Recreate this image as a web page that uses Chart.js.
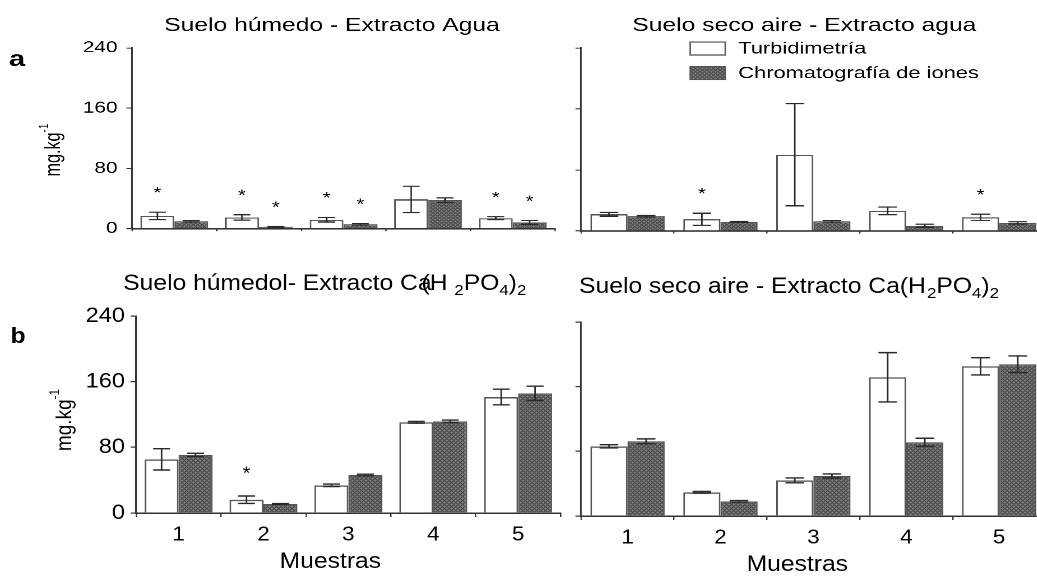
<!DOCTYPE html>
<html>
<head>
<meta charset="utf-8">
<script src="https://cdn.jsdelivr.net/npm/chart.js@4.4.0/dist/chart.umd.min.js"></script>
<style>
  html, body { margin: 0; padding: 0; background: #fff; overflow: hidden; }
  body { width: 1037px; height: 577px; position: relative; }
  .panel { position: absolute; transform-origin: 0 0; }
  .panel canvas { display: block; }
</style>
</head>
<body>
<div class="panel" id="panelA"><canvas></canvas></div>
<div class="panel" id="panelB"><canvas></canvas></div>
<div class="panel" id="panelC"><canvas></canvas></div>
<div class="panel" id="panelD"><canvas></canvas></div>
<script>
const muestras = ['1', '2', '3', '4', '5'];
const yTicks = [0, 80, 160, 240];

// Suelo húmedo - extracto agua
const humAguaTurb = [17, 15, 12, 39, 14];
const humAguaTurbErr = [5, 3.5, 3, 17.5, 2];
const humAguaCrom = [10, 2.6, 6, 38, 8.5];
const humAguaCromErr = [1, 0.5, 1, 3, 2.5];
const humAguaTurbSig = [1, 1, 1, 0, 1];
const humAguaCromSig = [0, 1, 1, 0, 1];

// Suelo seco aire - extracto agua
const secoAguaTurb = [22, 15.4, 100, 26.4, 18];
const secoAguaTurbErr = [2.5, 8, 67, 5, 4];
const secoAguaCrom = [19.4, 12, 12.8, 7, 10.6];
const secoAguaCromErr = [1, 0.5, 1, 2, 1.5];
const secoAguaTurbSig = [0, 1, 0, 0, 1];
const secoAguaCromSig = [0, 0, 0, 0, 0];

// Suelo húmedo - extracto Ca(H2PO4)2
const humCaTurb = [65.4, 16.2, 33.7, 110.5, 141.3];
const humCaTurbErr = [13, 4.5, 1.5, 1, 9.5];
const humCaCrom = [70.7, 11, 46.3, 111.7, 145.8];
const humCaCromErr = [2, 0.5, 1, 1.5, 8.7];
const humCaTurbSig = [0, 1, 0, 0, 0];
const humCaCromSig = [0, 0, 0, 0, 0];

// Suelo seco aire - extracto Ca(H2PO4)2
const secoCaTurb = [86.2, 29.3, 44.1, 171.6, 185.2];
const secoCaTurbErr = [2, 1, 3, 30.5, 10.7];
const secoCaCrom = [92.4, 18.1, 49.5, 91.2, 187.7];
const secoCaCromErr = [3, 1, 2.5, 5, 10.3];
const secoCaTurbSig = [0, 0, 0, 0, 0];
const secoCaCromSig = [0, 0, 0, 0, 0];

const fam = '"Liberation Sans", Arial, Helvetica, sans-serif';

// fine cross-hatch used for the ion chromatography bars
const hatch = (function () {
    const tile = document.createElement('canvas');
    tile.width = tile.height = 4;
    const g = tile.getContext('2d');
    g.fillStyle = '#8a8a8a';
    g.fillRect(0, 0, 4, 4);
    g.fillStyle = '#1c1c1c';
    for (let i = 0; i < 4; i++) {
        for (let j = 0; j < 4; j++) {
            if ((i + j) % 4 === 0 || (i - j + 4) % 4 === 0) g.fillRect(i, j, 1, 1);
        }
    }
    return g.createPattern(tile, 'repeat');
})();

// text made of pieces (subscripts, superscripts, overlaps)
function rich(ctx, parts, x, y, align) {
    let w = 0;
    parts.forEach(p => {
        ctx.font = `${p.size}px ${fam}`;
        w += ctx.measureText(p.t).width + (p.dx || 0);
    });
    let cx = align === 'center' ? x - w / 2 : x;
    ctx.textAlign = 'left';
    parts.forEach(p => {
        ctx.font = `${p.size}px ${fam}`;
        cx += p.dx || 0;
        ctx.fillText(p.t, cx, y + (p.dy || 0));
        cx += ctx.measureText(p.t).width;
    });
}

function text(ctx, str, pos, size, align, baseline, weight) {
    ctx.font = `${weight || ''} ${size}px ${fam}`;
    ctx.textAlign = align;
    ctx.textBaseline = baseline || 'alphabetic';
    ctx.fillText(str, pos[0], pos[1]);
}

function yTitle(ctx, pos, size) {
    ctx.save();
    ctx.translate(pos[0], pos[1]);
    ctx.rotate(-Math.PI / 2);
    ctx.textBaseline = 'middle';
    rich(ctx, [{t: 'mg.kg', size: size}, {t: '-1', size: size * 0.62, dy: -size * 0.45}], 0, 0, 'center');
    ctx.restore();
}

const errorBars = {
    id: 'errorBars',
    afterDatasetsDraw(chart) {
        const ctx = chart.ctx;
        const y = chart.scales.y;
        chart.data.datasets.forEach((ds, i) => {
            chart.getDatasetMeta(i).data.forEach((bar, j) => {
                const v = ds.data[j], e = ds.errors[j];
                const top = y.getPixelForValue(v + e);
                const bot = y.getPixelForValue(Math.max(v - e, 0));
                const half = bar.width / 4;
                ctx.save();
                ctx.strokeStyle = '#2a2a2a';
                ctx.lineWidth = 1.4;
                ctx.beginPath();
                ctx.moveTo(bar.x, top); ctx.lineTo(bar.x, bot);
                ctx.moveTo(bar.x - half, top); ctx.lineTo(bar.x + half, top);
                ctx.moveTo(bar.x - half, bot); ctx.lineTo(bar.x + half, bot);
                ctx.stroke();
                if (ds.sig[j]) {
                    const cy = Math.min(top, bar.y) - 27;
                    text(ctx, '*', [bar.x, cy + 10.4], 18, 'center');
                }
                ctx.restore();
            });
        });
    }
};

function makePanel(id, box, area, sx, sy, cfg) {
    const wrap = document.getElementById(id);
    const W = box.w / sx, H = box.h / sy;
    Object.assign(wrap.style, {
        left: box.x + 'px', top: box.y + 'px',
        width: W + 'px', height: H + 'px',
        transform: `scale(${sx}, ${sy})`
    });
    const L = (vx, vy) => [(vx - box.x) / sx, (vy - box.y) / sy];
    const yAxisW = (area.l - box.x) / sx;
    const xAxisH = (box.y + box.h - area.b) / sy;
    const decor = {
        id: 'decor',
        afterDraw(chart) {
            const ctx = chart.ctx;
            ctx.save();
            ctx.fillStyle = '#000';
            cfg.decor(ctx, L);
            ctx.restore();
        }
    };
    return new Chart(wrap.querySelector('canvas'), {
        type: 'bar',
        data: {
            labels: muestras,
            datasets: [
                {
                    label: 'Turbidimetría',
                    data: cfg.turb, errors: cfg.turbErr, sig: cfg.turbSig,
                    backgroundColor: '#ffffff', borderColor: '#555', borderWidth: 1.5
                },
                {
                    label: 'Chromatografía de iones',
                    data: cfg.crom, errors: cfg.cromErr, sig: cfg.cromSig,
                    backgroundColor: hatch, borderColor: '#555', borderWidth: 1.5
                }
            ]
        },
        options: {
            responsive: true,
            maintainAspectRatio: false,
            animation: false,
            devicePixelRatio: 2,
            layout: {
                padding: {top: (area.t - box.y) / sy, right: (box.x + box.w - area.r) / sx, left: 0, bottom: 0}
            },
            datasets: {bar: {categoryPercentage: 0.8, barPercentage: 1}},
            plugins: {legend: {display: false}, tooltip: {enabled: false}},
            scales: {
                x: {
                    ticks: {display: cfg.xLabels, color: '#000', padding: 6, font: {family: fam, size: 20}},
                    grid: {drawOnChartArea: false, tickLength: cfg.xTick, color: '#333', lineWidth: 1.2},
                    border: {color: '#333', width: 1.5},
                    afterFit: s => { s.height = xAxisH; }
                },
                y: {
                    min: 0, max: 240,
                    afterBuildTicks: s => { s.ticks = yTicks.map(v => ({value: v})); },
                    ticks: {display: cfg.yLabels, color: '#000', padding: cfg.yPad, font: {family: fam, size: cfg.ySize}},
                    grid: {drawOnChartArea: false, tickLength: 5, color: '#333', lineWidth: 1.2},
                    border: {color: '#333', width: 1.5},
                    afterFit: s => { s.width = yAxisW; }
                }
            }
        },
        plugins: [errorBars, decor]
    });
}

makePanel('panelA', {x: 0, y: 0, w: 560, h: 245}, {l: 132, t: 48, r: 555, b: 232}, 1.12, 0.85, {
    turb: humAguaTurb, turbErr: humAguaTurbErr, turbSig: humAguaTurbSig,
    crom: humAguaCrom, cromErr: humAguaCromErr, cromSig: humAguaCromSig,
    xLabels: false, xTick: 3, yLabels: true, yPad: 8, ySize: 18.5,
    decor: (ctx, L) => {
        text(ctx, 'Suelo húmedo - Extracto Agua', L(332, 31), 22, 'center');
        text(ctx, 'a', L(17, 66), 26, 'center', 'alphabetic', 'bold');
        yTitle(ctx, L(54, 150), 19);
    }
});

makePanel('panelB', {x: 520, y: 0, w: 525, h: 245}, {l: 581, t: 48, r: 1045, b: 231}, 1.12, 0.85, {
    turb: secoAguaTurb, turbErr: secoAguaTurbErr, turbSig: secoAguaTurbSig,
    crom: secoAguaCrom, cromErr: secoAguaCromErr, cromSig: secoAguaCromSig,
    xLabels: false, xTick: 3, yLabels: false, yPad: 8, ySize: 18,
    decor: (ctx, L) => {
        text(ctx, 'Suelo seco aire - Extracto agua', L(804, 31), 22, 'center');
        // legend
        const bw = 35 / 1.12, bh = 13 / 0.85;
        [[42, '#ffffff', 'Turbidimetría'], [66.5, hatch, 'Chromatografía de iones']].forEach(([vy, fill, name]) => {
            const p = L(690, vy);
            ctx.fillStyle = fill;
            ctx.fillRect(p[0], p[1], bw, bh);
            ctx.strokeStyle = '#555';
            ctx.lineWidth = 1.3;
            ctx.strokeRect(p[0], p[1], bw, bh);
            ctx.fillStyle = '#000';
            text(ctx, name, L(738, vy + 7), 19.5, 'left', 'middle');
        });
    }
});

makePanel('panelC', {x: 0, y: 260, w: 565, h: 317}, {l: 136, t: 316, r: 560, b: 513}, 1.12, 1, {
    turb: humCaTurb, turbErr: humCaTurbErr, turbSig: humCaTurbSig,
    crom: humCaCrom, cromErr: humCaCromErr, cromSig: humCaCromSig,
    xLabels: true, xTick: 4, yLabels: true, yPad: 5, ySize: 21,
    decor: (ctx, L) => {
        const p = L(123, 290);
        ctx.textBaseline = 'alphabetic';
        rich(ctx, [
            {t: 'Suelo húmedol- Extracto Ca', size: 22},
            {t: '(H ', size: 22, dx: -9},
            {t: '2', size: 15, dy: 5},
            {t: 'PO', size: 22},
            {t: '4', size: 15, dy: 5},
            {t: ')', size: 22},
            {t: '2', size: 15, dy: 5}
        ], p[0], p[1], 'left');
        text(ctx, 'b', L(18, 343), 22, 'center', 'alphabetic', 'bold');
        yTitle(ctx, L(65, 420), 19);
        text(ctx, 'Muestras', L(330, 562), 22, 'center', 'middle');
    }
});

makePanel('panelD', {x: 520, y: 260, w: 525, h: 317}, {l: 581, t: 322, r: 1045, b: 516}, 1.12, 1, {
    turb: secoCaTurb, turbErr: secoCaTurbErr, turbSig: secoCaTurbSig,
    crom: secoCaCrom, cromErr: secoCaCromErr, cromSig: secoCaCromSig,
    xLabels: true, xTick: 4, yLabels: false, yPad: 5, ySize: 21,
    decor: (ctx, L) => {
        const p = L(579, 293);
        ctx.textBaseline = 'alphabetic';
        rich(ctx, [
            {t: 'Suelo seco aire - Extracto Ca(H', size: 22},
            {t: '2', size: 15, dy: 5, dx: 1},
            {t: 'PO', size: 22},
            {t: '4', size: 15, dy: 5},
            {t: ')', size: 22},
            {t: '2', size: 15, dy: 5}
        ], p[0], p[1], 'left');
        text(ctx, 'Muestras', L(797, 565), 22, 'center', 'middle');
    }
});
</script>
</body>
</html>
